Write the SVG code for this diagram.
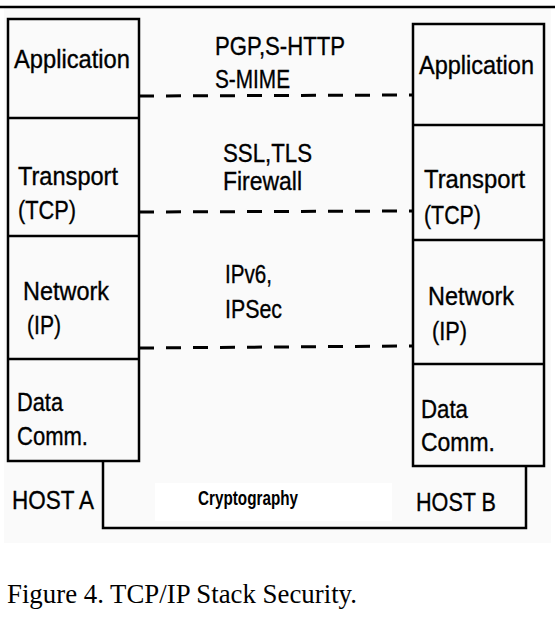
<svg xmlns="http://www.w3.org/2000/svg" width="555" height="629" viewBox="0 0 555 629">
<style>
.box{fill:none;stroke:#000;stroke-width:2.5}
.lbl{font-family:"Liberation Sans",Arial,sans-serif;font-size:26px;fill:#000;stroke:#000;stroke-width:0.35}
.dash{stroke:#000;stroke-width:3;stroke-dasharray:15 12;fill:none}
.conn{stroke:#000;stroke-width:2.5;fill:none}
.cap{font-family:"Liberation Serif","Times New Roman",serif;font-size:27px;fill:#000}
</style>
<rect x="0" y="0" width="555" height="629" fill="#fff"/>
<rect x="4" y="8" width="547" height="535" fill="#fafafa"/>
<rect x="155" y="483" width="237" height="38" fill="#fff"/>
<line x1="0" y1="7" x2="555" y2="7" stroke="#000" stroke-width="2.5"/>
<g id="hostA">
<rect class="box" x="8" y="19" width="131" height="442"/>
<line class="box" x1="8" y1="118" x2="139" y2="118"/>
<line class="box" x1="8" y1="236" x2="139" y2="236"/>
<line class="box" x1="8" y1="359" x2="139" y2="359"/>
<text class="lbl" x="14" y="68" textLength="116" lengthAdjust="spacingAndGlyphs">Application</text>
<text class="lbl" x="18" y="185" textLength="100" lengthAdjust="spacingAndGlyphs">Transport</text>
<text class="lbl" x="18" y="219" textLength="58" lengthAdjust="spacingAndGlyphs">(TCP)</text>
<text class="lbl" x="23" y="300" textLength="86" lengthAdjust="spacingAndGlyphs">Network</text>
<text class="lbl" x="27" y="334" textLength="34" lengthAdjust="spacingAndGlyphs">(IP)</text>
<text class="lbl" x="17" y="411" textLength="46" lengthAdjust="spacingAndGlyphs">Data</text>
<text class="lbl" x="17" y="445" textLength="71" lengthAdjust="spacingAndGlyphs">Comm.</text>
<text class="lbl" x="12" y="509" textLength="82" lengthAdjust="spacingAndGlyphs">HOST A</text>
</g>
<g id="hostB">
<rect class="box" x="413" y="24" width="131" height="442"/>
<line class="box" x1="413" y1="125" x2="544" y2="125"/>
<line class="box" x1="413" y1="240" x2="544" y2="240"/>
<line class="box" x1="413" y1="364" x2="544" y2="364"/>
<text class="lbl" x="419" y="74" textLength="115" lengthAdjust="spacingAndGlyphs">Application</text>
<text class="lbl" x="424" y="188" textLength="101" lengthAdjust="spacingAndGlyphs">Transport</text>
<text class="lbl" x="424" y="224" textLength="57" lengthAdjust="spacingAndGlyphs">(TCP)</text>
<text class="lbl" x="428" y="305" textLength="86" lengthAdjust="spacingAndGlyphs">Network</text>
<text class="lbl" x="432" y="340" textLength="35" lengthAdjust="spacingAndGlyphs">(IP)</text>
<text class="lbl" x="421" y="418" textLength="47" lengthAdjust="spacingAndGlyphs">Data</text>
<text class="lbl" x="421" y="451" textLength="74" lengthAdjust="spacingAndGlyphs">Comm.</text>
<text class="lbl" x="416" y="511" textLength="80" lengthAdjust="spacingAndGlyphs">HOST B</text>
</g>
<g id="connectors">
<line class="dash" x1="139" y1="96" x2="413" y2="95"/>
<line class="dash" x1="139" y1="212" x2="413" y2="211"/>
<line class="dash" x1="139" y1="348" x2="413" y2="346"/>
<polyline class="conn" points="103,461 103,528 526,528 526,466"/>
</g>
<g id="labels">
<text class="lbl" x="215" y="55" textLength="130" lengthAdjust="spacingAndGlyphs">PGP,S-HTTP</text>
<text class="lbl" x="215" y="88" textLength="75" lengthAdjust="spacingAndGlyphs">S-MIME</text>
<text class="lbl" x="223" y="162" textLength="89" lengthAdjust="spacingAndGlyphs">SSL,TLS</text>
<text class="lbl" x="223" y="190" textLength="79" lengthAdjust="spacingAndGlyphs">Firewall</text>
<text class="lbl" x="225" y="283" textLength="47" lengthAdjust="spacingAndGlyphs">IPv6,</text>
<text class="lbl" x="225" y="318" textLength="57" lengthAdjust="spacingAndGlyphs">IPSec</text>
<text class="lbl" x="198" y="505" style="font-size:20px;font-weight:bold;stroke-width:0" textLength="100" lengthAdjust="spacingAndGlyphs">Cryptography</text>
</g>
<text class="cap" x="7" y="603" textLength="350" lengthAdjust="spacingAndGlyphs">Figure 4. TCP/IP Stack Security.</text>
</svg>
